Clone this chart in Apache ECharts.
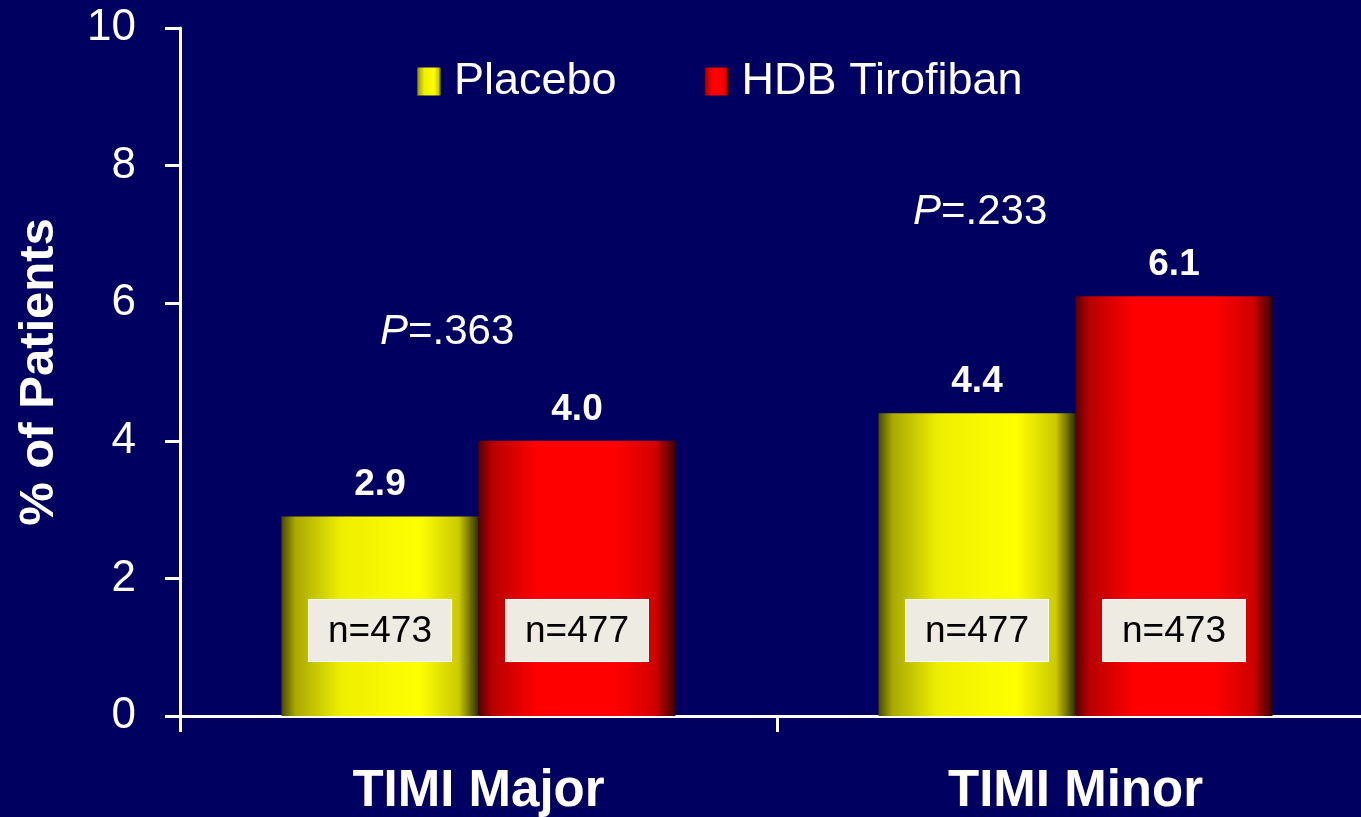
<html>
<head>
<meta charset="utf-8" />
<title>TIMI bleeding</title>
<script src="https://cdn.jsdelivr.net/npm/echarts@6/dist/echarts.min.js"></script>
<style>
	body { margin: 0; background: #000060; }
	#chart { width: 1361px; height: 817px; }
</style>
</head>
<body>
<div id="chart"></div>
<script type="text/javascript">
	var categories = ['TIMI Major', 'TIMI Minor'];
	var placebo = [2.9, 4.4];
	var tirofiban = [4.0, 6.1];
	var placeboN = [473, 477];
	var tirofibanN = [477, 473];
	var pValues = ['.363', '.233'];
	var yTicks = [0, 2, 4, 6, 8, 10];

	var yellow = new echarts.graphic.LinearGradient(0, 0, 1, 0, [
		{ offset: 0, color: '#4a4a00' },
		{ offset: 0.07, color: '#a8a800' },
		{ offset: 0.3, color: '#eeee00' },
		{ offset: 0.7, color: '#ffff00' },
		{ offset: 0.9, color: '#caca00' },
		{ offset: 1, color: '#2e2e00' }
	]);
	var red = new echarts.graphic.LinearGradient(0, 0, 1, 0, [
		{ offset: 0, color: '#5a0000' },
		{ offset: 0.07, color: '#b80000' },
		{ offset: 0.3, color: '#ff0000' },
		{ offset: 0.7, color: '#ff0000' },
		{ offset: 0.9, color: '#d00000' },
		{ offset: 1, color: '#3a0000' }
	]);

	var nLabel = {
		show: true,
		position: 'insideBottom',
		distance: 55,
		color: '#000',
		fontFamily: 'Arial, Liberation Sans',
		fontSize: 37,
		backgroundColor: '#edebe2',
		borderColor: '#ffffff',
		borderWidth: 1,
		padding: [13, 19, 11, 19]
	};
	var topLabel = {
		show: true,
		position: 'top',
		distance: 13,
		color: '#fff',
		fontFamily: 'Arial, Liberation Sans',
		fontWeight: 'bold',
		fontSize: 37
	};

	var myChart = echarts.init(document.getElementById('chart'));
	var option = {
		backgroundColor: '#000060',
		animation: false,
		textStyle: { fontFamily: 'Arial, Liberation Sans' },
		grid: { left: 180, right: -13, top: 28, bottom: 101, outerBoundsMode: 'none', containLabel: false },
		legend: {
			data: ['Placebo', 'HDB Tirofiban'],
			left: 412,
			top: 54,
			itemWidth: 24,
			itemHeight: 28,
			itemGap: 88,
			icon: 'rect',
			textStyle: { color: '#fff', fontSize: 45, fontFamily: 'Arial, Liberation Sans', padding: [0, 0, 0, 8] }
		},
		xAxis: {
			type: 'category',
			data: categories,
			axisLine: { lineStyle: { color: '#fff', width: 3 } },
			axisTick: { show: true, length: 16, lineStyle: { color: '#fff', width: 3 } },
			axisLabel: {
				color: '#fff',
				fontSize: 51,
				fontWeight: 'bold',
				margin: 50
			}
		},
		yAxis: {
			type: 'value',
			min: 0,
			max: 10,
			interval: 2,
			name: '% of Patients',
			nameLocation: 'middle',
			nameGap: 116,
			nameTextStyle: { color: '#fff', fontSize: 49, fontWeight: 'bold' },
			axisLine: { show: true, lineStyle: { color: '#fff', width: 3 } },
			axisTick: { show: true, length: 15, lineStyle: { color: '#fff', width: 3 } },
			splitLine: { show: false },
			axisLabel: {
				color: '#fff',
				fontSize: 44,
				margin: 44,
				formatter: function(v) { return yTicks.indexOf(v) >= 0 ? String(v) : ''; }
			}
		},
		graphic: [
			{
				type: 'text', left: 380, top: 311,
				style: {
					text: '{i|P}=' + pValues[0],
					fill: '#fff', font: '42px Arial, Liberation Sans',
					rich: { i: { fontStyle: 'italic', fontSize: 42, fill: '#fff' } }
				}
			},
			{
				type: 'text', left: 913, top: 191,
				style: {
					text: '{i|P}=' + pValues[1],
					fill: '#fff', font: '42px Arial, Liberation Sans',
					rich: { i: { fontStyle: 'italic', fontSize: 42, fill: '#fff' } }
				}
			}
		],
		series: [
			{
				name: 'Placebo',
				type: 'bar',
				stack: 'p',
				barWidth: 197,
				barGap: '0%',
				itemStyle: { color: yellow },
				label: Object.assign({}, nLabel, {
					formatter: function(p) { return 'n=' + placeboN[p.dataIndex]; }
				}),
				data: placebo
			},
			{
				name: 'HDB Tirofiban',
				type: 'bar',
				stack: 'h',
				barWidth: 197,
				barGap: '0%',
				itemStyle: { color: red },
				label: Object.assign({}, nLabel, {
					formatter: function(p) { return 'n=' + tirofibanN[p.dataIndex]; }
				}),
				data: tirofiban
			},
			{
				name: 'Placebo top',
				type: 'bar',
				stack: 'p',
				barWidth: 197,
				itemStyle: { color: 'transparent' },
				label: Object.assign({}, topLabel, {
					formatter: function(p) { return placebo[p.dataIndex].toFixed(1); }
				}),
				data: [0, 0]
			},
			{
				name: 'HDB top',
				type: 'bar',
				stack: 'h',
				barWidth: 197,
				itemStyle: { color: 'transparent' },
				label: Object.assign({}, topLabel, {
					formatter: function(p) { return tirofiban[p.dataIndex].toFixed(1); }
				}),
				data: [0, 0]
			}
		]
	};
	myChart.setOption(option);
</script>
</body>
</html>
